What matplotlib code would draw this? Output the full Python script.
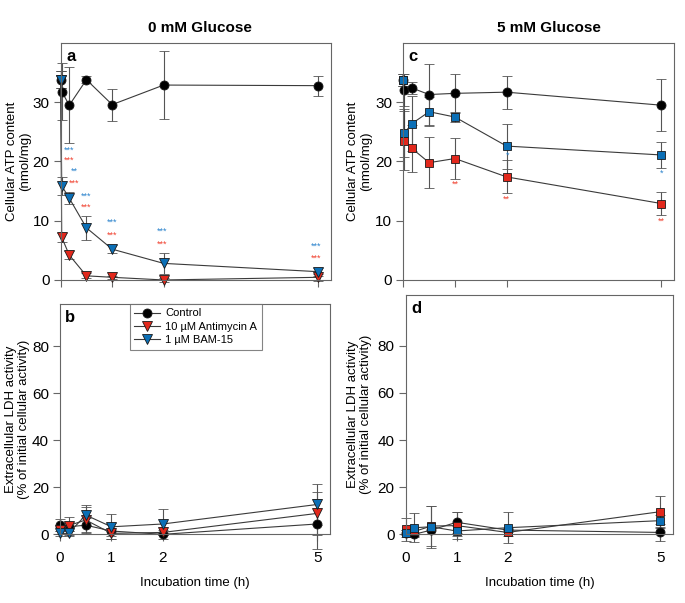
import matplotlib
matplotlib.use("Agg")
import matplotlib.pyplot as plt

plt.rcParams["font.family"] = ["Liberation Sans", "DejaVu Sans"]

# ATP content (nmol/mg), incubation time in h
time_atp = [0, 0.02, 0.167, 0.5, 1, 2, 5]

atp0_ctrl = [33.8, 31.8, 29.5, 33.8, 29.6, 32.9, 32.8]
atp0_ctrl_err = [1.4, 4.8, 6.4, 0.6, 2.7, 5.7, 1.7]
atp0_anti = [33.8, 7.2, 4.2, 0.7, 0.45, 0.0, 0.45]
atp0_anti_err = [1.4, 0.8, 0.7, 0.4, 0.3, 0.3, 0.6]
atp0_bam = [33.8, 15.9, 13.8, 8.8, 5.2, 2.8, 1.4]
atp0_bam_err = [1.4, 1.5, 1.05, 2.0, 0.65, 1.75, 0.7]

atp5_ctrl = [33.8, 32.1, 32.4, 31.3, 31.5, 31.7, 29.5]
atp5_ctrl_err = [1.0, 2.7, 1.0, 5.2, 3.3, 2.8, 4.4]
atp5_anti = [33.8, 23.5, 22.2, 19.8, 20.5, 17.4, 12.9]
atp5_anti_err = [1.0, 5.0, 4.0, 4.3, 3.4, 2.8, 1.9]
atp5_bam = [33.8, 24.8, 26.4, 28.4, 27.5, 22.6, 21.1]
atp5_bam_err = [1.0, 4.0, 4.6, 2.4, 0.8, 3.8, 2.2]

# extracellular LDH (% of initial cellular activity)
time_ldh = [0, 0.167, 0.5, 1, 2, 5]

ldh0_ctrl = [3.9, 3.2, 3.9, 1.4, 0.0, 4.4]
ldh0_ctrl_err = [2.6, 2.0, 3.0, 3.5, 0.5, 10.5]
ldh0_anti = [1.8, 3.7, 6.1, 0.4, 0.8, 8.9]
ldh0_anti_err = [1.5, 3.8, 5.7, 1.0, 1.0, 9.2]
ldh0_bam = [0.4, 0.4, 8.2, 3.2, 4.4, 12.7]
ldh0_bam_err = [1.0, 1.0, 4.2, 5.3, 6.2, 8.6]

ldh5_ctrl = [0.7, 0.0, 1.8, 5.1, 1.8, 0.8]
ldh5_ctrl_err = [1.0, 1.0, 1.5, 4.5, 1.0, 3.5]
ldh5_anti = [2.1, 1.2, 3.5, 3.7, 0.8, 9.6]
ldh5_anti_err = [4.9, 2.0, 8.6, 5.6, 1.5, 6.8]
ldh5_bam = [0.4, 2.8, 3.2, 1.4, 2.8, 5.8]
ldh5_bam_err = [1.5, 6.1, 8.9, 2.0, 6.5, 2.5]

# significance marks
sig0_x = [0.17, 0.17, 0.27, 0.27, 0.5, 0.5, 1.0, 1.0, 1.97, 1.97, 4.97, 4.97]
sig0_y = [21.9, 20.2, 18.4, 16.4, 14.2, 12.3, 9.7, 7.5, 8.3, 6.1, 5.7, 3.6]
sig0_txt = ["***", "***", "**", "***", "***", "***", "***", "***", "***", "***", "***", "***"]
sig0_col = ["b", "r", "b", "r", "b", "r", "b", "r", "b", "r", "b", "r"]

sig5_x = [1.0, 2.02, 2.0, 5.0, 5.0]
sig5_y = [16.2, 21.0, 13.7, 18.0, 9.9]
sig5_txt = ["**", "*", "**", "*", "**"]
sig5_col = ["r", "b", "r", "b", "r"]

RED = "#e2281c"
BLUE = "#0b6fb6"
STAR = {"r": "#f0402e", "b": "#2a82cc"}
LINE = "#3a3a3a"
FRAME = "#666666"


def series(ax, x, y, err, marker, color, ms, label=None):
    cont = ax.errorbar(x, y, yerr=err, fmt=marker + "-", color=LINE, lw=0.8,
                       mfc=color, mec="#1a1a1a", mew=0.6, ms=ms,
                       ecolor="#555555", elinewidth=0.8, capsize=3.5, capthick=0.8,
                       label=label)
    for art in cont.get_children():
        art.set_clip_on(False)
    return cont


def style(ax, ylim, yticks, xlabels):
    ax.set_xlim(0, 5.25)
    ax.set_ylim(*ylim)
    ax.set_yticks(yticks)
    ax.set_xticks([0, 1, 2, 5])
    for s in ax.spines.values():
        s.set_color(FRAME)
        s.set_linewidth(0.8)
    ax.tick_params(direction="out", length=5, width=0.8, color=FRAME,
                   labelsize=11, pad=3)
    ax.tick_params(axis="x", pad=7)
    if not xlabels:
        ax.set_xticklabels([])
    else:
        ax.set_xlabel("Incubation time (h)", fontsize=9.5, labelpad=9)


fig = plt.figure(figsize=(6.85, 6.03), dpi=100)
ax_a = fig.add_axes([0.0886, 0.5357, 0.3946, 0.393])
ax_c = fig.add_axes([0.5888, 0.5357, 0.3956, 0.393])
ax_b = fig.add_axes([0.0876, 0.1139, 0.3942, 0.3819])
ax_d = fig.add_axes([0.5923, 0.1139, 0.3902, 0.3968])

# a
series(ax_a, time_atp, atp0_ctrl, atp0_ctrl_err, "o", "black", 6.5)
series(ax_a, time_atp, atp0_anti, atp0_anti_err, "v", RED, 7)
series(ax_a, time_atp, atp0_bam, atp0_bam_err, "v", BLUE, 7)
for x, y, t, c in zip(sig0_x, sig0_y, sig0_txt, sig0_col):
    ax_a.text(x, y, t, color=STAR[c], fontsize=6.5, ha="center", va="center")
style(ax_a, (0, 40), [0, 10, 20, 30], False)

# c
series(ax_c, time_atp, atp5_ctrl, atp5_ctrl_err, "o", "black", 6.5)
series(ax_c, time_atp, atp5_anti, atp5_anti_err, "s", RED, 6)
series(ax_c, time_atp, atp5_bam, atp5_bam_err, "s", BLUE, 6)
for x, y, t, c in zip(sig5_x, sig5_y, sig5_txt, sig5_col):
    ax_c.text(x, y, t, color=STAR[c], fontsize=6.5, ha="center", va="center")
style(ax_c, (0, 40), [0, 10, 20, 30], False)

# b
series(ax_b, time_ldh, ldh0_ctrl, ldh0_ctrl_err, "o", "black", 6.5, "Control")
series(ax_b, time_ldh, ldh0_anti, ldh0_anti_err, "v", RED, 7, "10 µM Antimycin A")
series(ax_b, time_ldh, ldh0_bam, ldh0_bam_err, "v", BLUE, 7, "1 µM BAM-15")
style(ax_b, (0, 98), [0, 20, 40, 60, 80], True)
handles, labels = ax_b.get_legend_handles_labels()
handles = [h[0] for h in handles]
leg = ax_b.legend(handles, labels, loc="upper left", bbox_to_anchor=(0.259, 1.0),
                  borderaxespad=0, fontsize=8, frameon=True, fancybox=False,
                  handlelength=2.3, handletextpad=0.5, labelspacing=0.3,
                  borderpad=0.4)
leg.get_frame().set_edgecolor(FRAME)
leg.get_frame().set_linewidth(0.8)

# d
series(ax_d, time_ldh, ldh5_ctrl, ldh5_ctrl_err, "o", "black", 6.5)
series(ax_d, time_ldh, ldh5_anti, ldh5_anti_err, "s", RED, 6)
series(ax_d, time_ldh, ldh5_bam, ldh5_bam_err, "s", BLUE, 6)
style(ax_d, (0, 101.5), [0, 20, 40, 60, 80], True)

ax_a.set_ylabel("Cellular ATP content\n(nmol/mg)", fontsize=9.5, linespacing=1.1)
ax_c.set_ylabel("Cellular ATP content\n(nmol/mg)", fontsize=9.5, linespacing=1.1)
ax_b.set_ylabel("Extracellular LDH activity\n(% of initial cellular activity)",
                fontsize=9.5, linespacing=1.1)
ax_d.set_ylabel("Extracellular LDH activity\n(% of initial cellular activity)",
                fontsize=9.5, linespacing=1.1)
ax_a.yaxis.set_label_coords(-0.11, 0.5)
ax_c.yaxis.set_label_coords(-0.115, 0.5)
ax_b.yaxis.set_label_coords(-0.11, 0.5)
ax_d.yaxis.set_label_coords(-0.125, 0.5)

for ax, letter in [(ax_a, "a"), (ax_b, "b"), (ax_c, "c"), (ax_d, "d")]:
    ax.text(0.02, 0.975, letter, transform=ax.transAxes, fontsize=12,
            fontweight="bold", ha="left", va="top")

fig.text(200 / 685, 1 - 28 / 603, "0 mM Glucose", ha="center", va="center",
         fontsize=11, fontweight="bold")
fig.text(549 / 685, 1 - 28 / 603, "5 mM Glucose", ha="center", va="center",
         fontsize=11, fontweight="bold")

fig.savefig("out.png", dpi=100)
